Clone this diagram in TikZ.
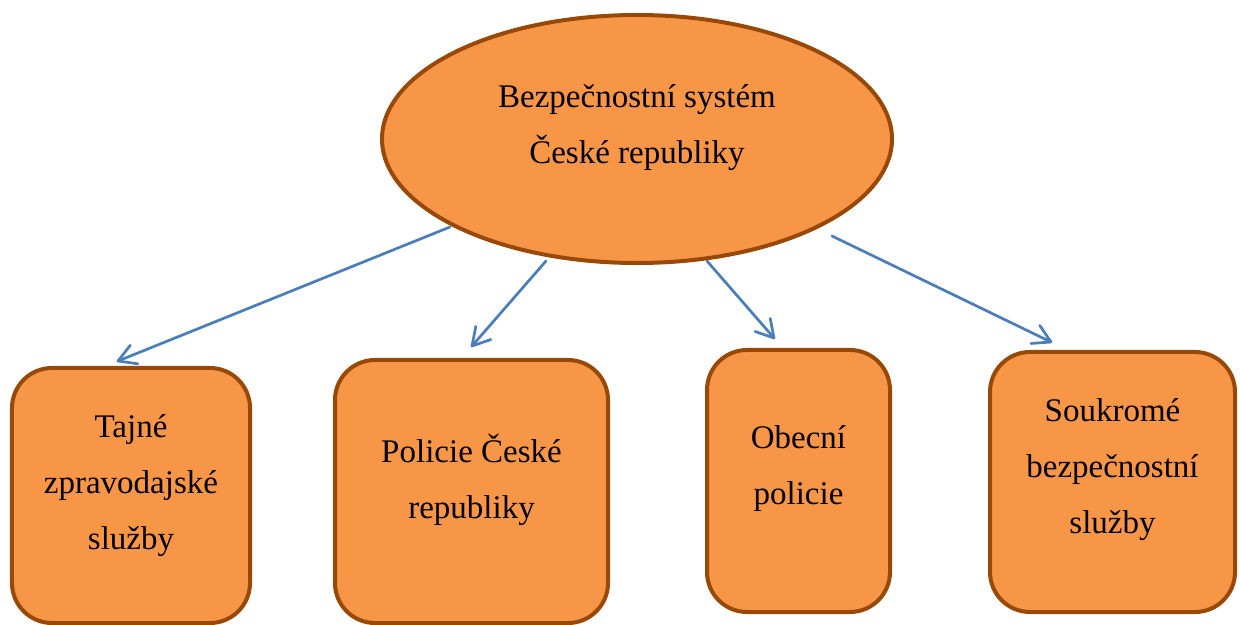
\documentclass[tikz,border=0pt]{standalone}
\usepackage{fontspec}
\setmainfont{Liberation Serif}
\usetikzlibrary{shapes.geometric,calc}
\definecolor{orfill}{HTML}{F79646}
\definecolor{orline}{HTML}{984807}
\definecolor{arrblue}{HTML}{4A7EBB}
\begin{document}
\begin{tikzpicture}[x=1bp,y=-1bp,
  shapebox/.style={draw=orline,fill=orfill,line width=4bp,rounded corners=40bp,
    rectangle,inner sep=0pt},
  lbl/.style={align=center,font=\fontsize{33bp}{56bp}\selectfont,inner sep=0pt},
  arr/.style={draw=arrblue,line width=2.7bp,line cap=round,line join=round}]
\useasboundingbox (0,0) rectangle (1240,625);
\node[ellipse,draw=orline,fill=orfill,line width=4bp,inner sep=0pt,
  minimum width=510bp,minimum height=248bp] (top) at (637,139) {};
\node[lbl] (toptext) at (637,128) {Bezpečnostní systém\\České republiky};
\node[shapebox,minimum width=238bp,minimum height=255bp] (b1) at (131,495.5) {};
\node[shapebox,minimum width=273bp,minimum height=263bp] (b2) at (471.5,491.5) {};
\node[shapebox,minimum width=183bp,minimum height=262bp] (b3) at (798.5,481) {};
\node[shapebox,minimum width=245bp,minimum height=260bp] (b4) at (1112.5,482) {};
\node[lbl] (l1) at (131,486) {Tajné\\zpravodajské\\služby};
\node[lbl] (l2) at (471.5,479.5) {Policie České\\republiky};
\node[lbl] (l3) at (798.5,469) {Obecní\\policie};
\node[lbl] (l4) at (1112.5,470) {Soukromé\\bezpečnostní\\služby};
\coordinate (s1) at (450,227);
\coordinate (s2) at (546,261);
\coordinate (s3) at (707,261);
\coordinate (s4) at (832,236);
\coordinate (t1) at ([xshift=-13bp,yshift=5bp]b1.north);
\coordinate (t2) at ([xshift=0.5bp,yshift=12bp]b2.north);
\coordinate (t3) at ([xshift=-24.5bp,yshift=10bp]b3.north);
\coordinate (t4) at ([xshift=-61.5bp,yshift=8bp]b4.north);
\foreach \i in {1,2,3,4}{
  \draw[arr] (s\i) -- (t\i);
  \draw[arr] ($(t\i)!20bp!30:(s\i)$) -- (t\i) -- ($(t\i)!20bp!-30:(s\i)$);
}
\end{tikzpicture}
\end{document}
